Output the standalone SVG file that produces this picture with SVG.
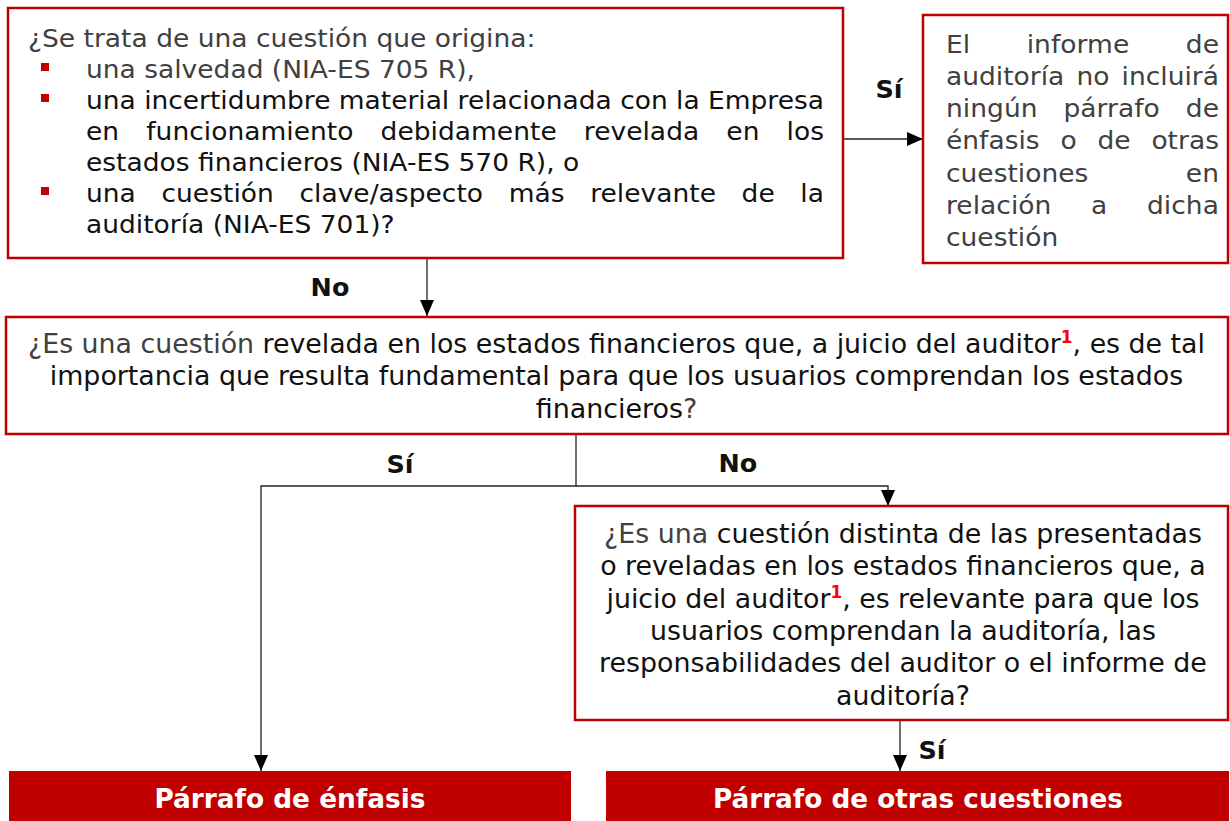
<svg xmlns="http://www.w3.org/2000/svg" width="1230" height="821" viewBox="0 0 1230 821">
<style>
.box{fill:#fff;stroke:#c00000;stroke-width:2.5}
.fill{fill:#c00000;stroke:none}
.t{font-family:"DejaVu Sans","Verdana",sans-serif;font-size:25px;fill:#404040}
.k{fill:#111}
.c{font-family:"DejaVu Sans Condensed","DejaVu Sans",sans-serif;font-size:27px;fill:#111;text-anchor:middle}
.g{fill:#404040}
.sup{font-weight:bold;fill:#ff0000;font-size:17px}
.b{font-family:"DejaVu Sans Condensed","DejaVu Sans",sans-serif;font-weight:bold;font-size:26px;fill:#fff;text-anchor:middle}
.lbl{font-family:"DejaVu Sans","Verdana",sans-serif;font-weight:bold;font-size:24px;fill:#111;text-anchor:middle}
.bul{fill:#c00000}
.conn{fill:none;stroke:#222;stroke-width:1.3}
</style>
<defs>
<marker id="ah" markerWidth="16" markerHeight="14" refX="16" refY="7" orient="auto" markerUnits="userSpaceOnUse">
<path d="M0,0 L16,7 L0,14 z" fill="#000"/>
</marker>
</defs>

<g id="connectors">
<path class="conn" d="M843,139 H923" marker-end="url(#ah)"/>
<path class="conn" d="M427,259 V316" marker-end="url(#ah)"/>
<path class="conn" d="M576,435 V486 H261 V771" marker-end="url(#ah)"/>
<path class="conn" d="M576,486 H888 V506" marker-end="url(#ah)"/>
<path class="conn" d="M900,721 V771" marker-end="url(#ah)"/>
</g>

<g id="labels">
<g transform="scale(1.06 1)">
<text class="lbl" x="838.7" y="98">Sí</text>
<text class="lbl" x="311.3" y="296">No</text>
<text class="lbl" x="377.4" y="473">Sí</text>
<text class="lbl" x="696.2" y="472">No</text>
<text class="lbl" x="879.2" y="759">Sí</text>
</g>
</g>

<g id="node-question1">
<rect class="box" x="8" y="8" width="835" height="250"/>
<rect class="bul" x="41" y="63" width="8" height="8"/>
<rect class="bul" x="41" y="94" width="8" height="8"/>
<rect class="bul" x="41" y="187" width="8" height="8"/>
<g transform="scale(1.06 1)">
<text class="t" x="26.42" y="47">¿Se trata de una cuestión que origina:</text>
<text class="t" x="81.13" y="78">una salvedad (NIA-ES 705 R),</text>
<text class="t k" x="81.13" y="109" textLength="696.2" lengthAdjust="spacing">una incertidumbre material relacionada con la Empresa</text>
<text class="t k" x="81.13" y="140" word-spacing="17.6" textLength="696.2" lengthAdjust="spacing">en funcionamiento debidamente revelada en los</text>
<text class="t k" x="81.13" y="171">estados financieros (NIA-ES 570 R), o</text>
<text class="t k" x="81.13" y="202" word-spacing="16.2" textLength="696.2" lengthAdjust="spacing">una cuestión clave/aspecto más relevante de la</text>
<text class="t k" x="81.13" y="233">auditoría (NIA-ES 701)?</text>
</g>
</g>

<g id="node-no-paragraph">
<rect class="box" x="923" y="15" width="305" height="248"/>
<g transform="scale(1.06 1)">
<text class="t" x="892.45" y="53" word-spacing="45.35" textLength="257.5" lengthAdjust="spacing">El informe de</text>
<text class="t" x="892.45" y="85" word-spacing="3.5" textLength="257.5" lengthAdjust="spacing">auditoría no incluirá</text>
<text class="t" x="892.45" y="117" word-spacing="16.5" textLength="257.5" lengthAdjust="spacing">ningún párrafo de</text>
<text class="t" x="892.45" y="149.5" word-spacing="11.7" textLength="257.5" lengthAdjust="spacing">énfasis o de otras</text>
<text class="t" x="892.45" y="182" word-spacing="84" textLength="257.5" lengthAdjust="spacing">cuestiones en</text>
<text class="t" x="892.45" y="214" word-spacing="29.4" textLength="257.5" lengthAdjust="spacing">relación a dicha</text>
<text class="t" x="892.45" y="246">cuestión</text>
</g>
</g>

<g id="node-question2">
<rect class="box" x="6" y="317" width="1222" height="117"/>
<g transform="scale(1.1 1)">
<text class="c" x="560.45" y="353" textLength="1070" lengthAdjust="spacingAndGlyphs"><tspan class="g">¿Es una cuestión</tspan> revelada en los estados financieros que, a juicio del auditor<tspan class="sup" dy="-10">1</tspan><tspan dy="10">, es de tal</tspan></text>
<text class="c" x="560.45" y="385.5" textLength="1030.4" lengthAdjust="spacingAndGlyphs">importancia que resulta fundamental para que los usuarios comprendan los estados</text>
<text class="c" x="560.45" y="418" textLength="146.8" lengthAdjust="spacingAndGlyphs">financieros<tspan class="g">?</tspan></text>
</g>
</g>

<g id="node-question3">
<rect class="box" x="575" y="506" width="653" height="214"/>
<g transform="scale(1.1 1)">
<text class="c" x="820.9" y="543" textLength="543.5" lengthAdjust="spacingAndGlyphs"><tspan class="g">¿Es una</tspan> cuestión distinta de las presentadas</text>
<text class="c" x="820.9" y="575.5" textLength="550.6" lengthAdjust="spacingAndGlyphs">o reveladas en los estados financieros que, a</text>
<text class="c" x="820.9" y="608" textLength="539.1" lengthAdjust="spacingAndGlyphs">juicio del auditor<tspan class="sup" dy="-10">1</tspan><tspan dy="10">, es relevante para que los</tspan></text>
<text class="c" x="820.9" y="640" textLength="460" lengthAdjust="spacingAndGlyphs">usuarios comprendan la auditoría, las</text>
<text class="c" x="820.9" y="672.5" textLength="552.5" lengthAdjust="spacingAndGlyphs">responsabilidades del auditor o el informe de</text>
<text class="c" x="820.9" y="705" textLength="121.6" lengthAdjust="spacingAndGlyphs">auditoría?</text>
</g>
</g>

<g id="node-enfasis">
<rect class="fill" x="9" y="771" width="562" height="50"/>
<g transform="scale(1.1 1)">
<text class="b" x="263.6" y="808" textLength="246.4" lengthAdjust="spacingAndGlyphs">Párrafo de énfasis</text>
</g>
</g>

<g id="node-otras">
<rect class="fill" x="606" y="771" width="623" height="50"/>
<g transform="scale(1.1 1)">
<text class="b" x="834.5" y="808" textLength="372.7" lengthAdjust="spacingAndGlyphs">Párrafo de otras cuestiones</text>
</g>
</g>
</svg>
